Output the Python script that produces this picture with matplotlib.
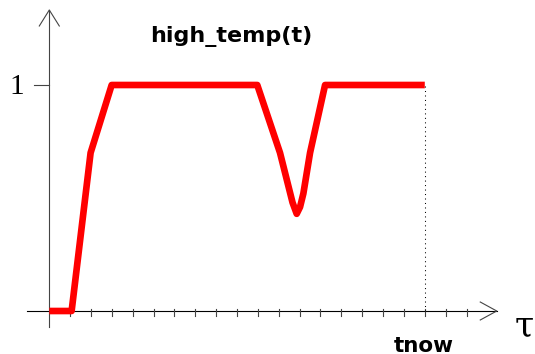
import matplotlib
matplotlib.use("Agg")
import matplotlib.pyplot as plt

# ---------------------------------------------------------------------------
# Data (tau in tick units, value 0..1)
# ---------------------------------------------------------------------------
tau = [0.0, 1.07, 1.98, 2.99, 9.97, 11.06, 11.66, 11.86, 12.02, 12.18, 12.50, 13.22, 18.0]
high_temp = [0.0, 0.0, 0.70, 1.0, 1.0, 0.70, 0.48, 0.43, 0.46, 0.52, 0.70, 1.0, 1.0]
tick_positions = list(range(1, 21))
t_now = 18
y_tick_value = 1

title_text = "high_temp(t)"
now_label = "tnow"
x_axis_label = "\u03c4"
y_tick_label = "1"

W, H = 535, 354
fig = plt.figure(figsize=(W / 100, H / 100), dpi=100)
ax = fig.add_axes([0, 0, 1, 1])
ax.axis("off")

# map data to pixels: x_px = 49.3 + 20.86 * t, y_px = 311 - 226 * v
sx, x0 = 20.86, 49.3
sy, y0 = 226.0, 311.0
ax.set_xlim(-x0 / sx, (W - x0) / sx)
ax.set_ylim(-(H - y0) / sy, y0 / sy)

def dx(px):
    return px / sx

def dy(px):
    return px / sy

axis_lw = 0.8

# x axis with open arrow head
x_end = 21.45
ax.plot([dx(-22), x_end], [0, 0], color="black", lw=axis_lw)
ax.plot([x_end - dx(16.5), x_end, x_end - dx(16.5)], [dy(9), 0, -dy(9)],
        color="#444444", lw=axis_lw)

# y axis with open arrow head
y_top = dy(y0 - 10)
ax.plot([0, 0], [-dy(16), y_top], color="#444444", lw=axis_lw)
ax.plot([-dx(10), 0, dx(10)], [y_top - dy(16), y_top, y_top - dy(16)],
        color="#444444", lw=axis_lw)

# ticks
for k in tick_positions:
    ax.plot([k, k], [dy(2), -dy(5)], color="#444444", lw=axis_lw)
ax.plot([-dx(15), 0], [y_tick_value, y_tick_value], color="#444444", lw=axis_lw)

# dotted line at tnow
ax.plot([t_now, t_now], [0, y_tick_value], color="black", lw=0.75,
        linestyle=(0, (1, 3.3)))

# the curve
ax.plot(tau, high_temp, color="#ff0000", lw=4.8, solid_joinstyle="round",
        solid_capstyle="butt", zorder=5)

# texts (figure pixel positions)
def fx(px):
    return px / W

def fy(px):
    return 1 - px / H

fig.text(fx(231.5), fy(41.7), title_text, ha="center", va="baseline",
         fontsize=16, fontweight="bold", family="DejaVu Sans")
fig.text(fx(423.3), fy(351.5), now_label, ha="center", va="baseline",
         fontsize=15.5, fontweight="bold", family="DejaVu Sans")
fig.text(fx(16.7), fy(87), y_tick_label, ha="center", va="center",
         fontsize=21, family="Liberation Serif")
fig.text(fx(524), fy(326), x_axis_label, ha="center", va="center",
         fontsize=25, family="DejaVu Serif")

fig.savefig("out.png", dpi=100)
